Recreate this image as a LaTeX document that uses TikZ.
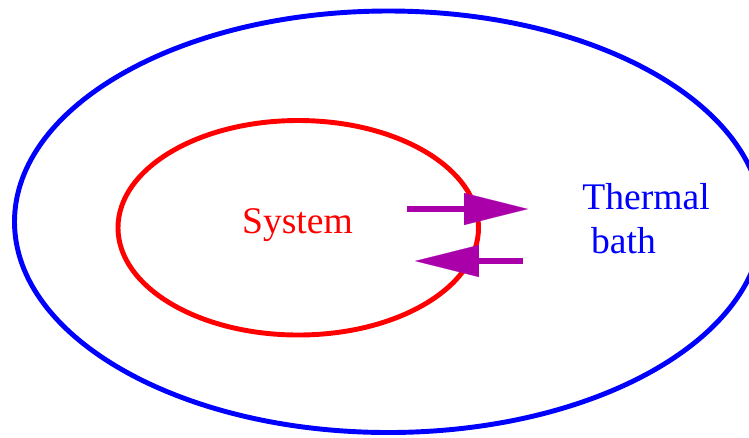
\documentclass[tikz,border=0pt]{standalone}
\usepackage{fontspec}
\setmainfont{Liberation Serif}
\usetikzlibrary{arrows.meta}
\definecolor{bathBlue}{HTML}{0000FF}
\definecolor{sysRed}{HTML}{FF0000}
\definecolor{flowPurple}{HTML}{AA00AA}
\begin{document}
\begin{tikzpicture}[x=0.02cm,y=-0.02cm,rim/.style={line width=2.8pt},label/.style={font=\fontsize{21.4}{25}\selectfont,inner sep=0pt},flow/.style={flowPurple,line width=3pt,-{Triangle[length=1.28cm,width=0.64cm,line width=0.1pt]}}]
\useasboundingbox (0,0) rectangle (749,437);
\clip (0,0) rectangle (749,437);
\draw[rim,bathBlue] (388.4,221.75) ellipse [x radius=373.9,y radius=210.75];
\draw[rim,sysRed] (298.25,227.75) ellipse [x radius=180.25,y radius=107.25];
\node[label,text=sysRed,anchor=base] (sys) at (297.5,233) {System};
\node[label,text=bathBlue,anchor=base west,align=left] (bath) at (582,253) {Thermal\\\hspace{5pt}bath};
\coordinate (outA) at (407,209);
\coordinate (outB) at (528,209);
\coordinate (inA) at (523,261);
\coordinate (inB) at (415,261);
\draw[flow] (outA) -- (outB);
\draw[flow] (inA) -- (inB);
\end{tikzpicture}
\end{document}
